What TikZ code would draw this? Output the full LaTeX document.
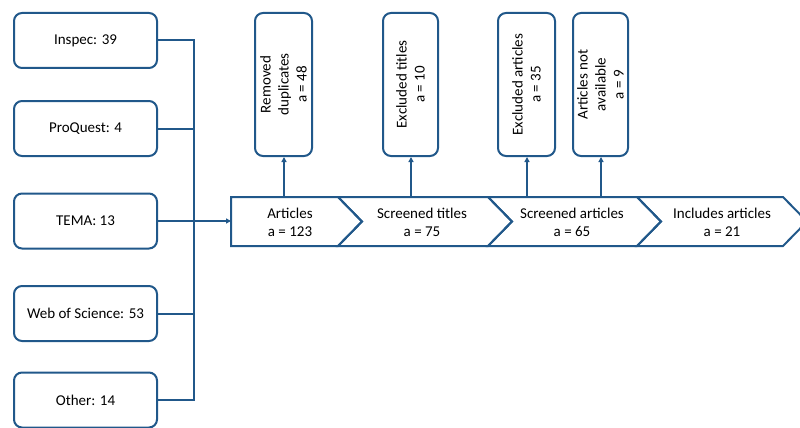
\documentclass[tikz,border=0pt]{standalone}
\usepackage{fontspec}
\setmainfont{Carlito}
\usetikzlibrary{arrows.meta}
\definecolor{dblue}{RGB}{33,88,138}
\begin{document}
\begin{tikzpicture}[x=1pt,y=-1pt,
  line width=2pt,
  src/.style={draw=dblue,rounded corners=8pt,minimum width=143pt,minimum height=55pt,inner sep=0pt,font=\fontsize{15}{18}\selectfont},
  side/.style={draw=dblue,rounded corners=8pt,minimum width=143pt,minimum height=#1,inner sep=0pt,rotate=90,align=center,font=\fontsize{15}{18}\selectfont},
  chev/.style={draw=dblue,line join=miter},
  lab/.style={align=center,inner sep=0pt,font=\fontsize{15}{18}\selectfont},
  conn/.style={draw=dblue},
  arr/.style={draw=dblue,-{Triangle[length=5pt,width=5pt]}}]
\useasboundingbox (0,0) rectangle (800,428);
% source boxes
\node[src] (inspec) at (85.5,40.5) {Inspec: 39};
\node[src] (proquest) at (85.5,128.5) {ProQuest: 4};
\node[src] (tema) at (85.5,221) {TEMA: 13};
\node[src] (wos) at (85.5,313.5) {Web of Science: 53};
\node[src] (other) at (85.5,400) {Other: 14};
% bus
\coordinate (busT) at (194,40.5);
\coordinate (busB) at (194,400);
\draw[conn] (inspec.east) -- (busT) -- (busB) -- (other.east);
\draw[conn] (proquest.east) -- (proquest.east -| busT);
\draw[conn] (wos.east) -- (wos.east -| busT);
% chevrons
\draw[chev] (231,197) -- (338,197) -- (362,221.5) -- (338,246) -- (231,246) -- cycle;
\draw[chev] (338,197) -- (488,197) -- (512,221.5) -- (488,246) -- (338,246) -- (362,221.5) -- cycle;
\draw[chev] (488,197) -- (637,197) -- (661,221.5) -- (637,246) -- (488,246) -- (512,221.5) -- cycle;
\draw[chev] (637,197) -- (783,197) -- (807,221.5) -- (783,246) -- (637,246) -- (661,221.5) -- cycle;
\coordinate (in1) at (231,221);
\draw[arr] (tema.east) -- (in1);
\node[lab] (c1) at (290,222) {Articles\\a = 123};
\node[lab] (c2) at (422,222) {Screened titles\\a = 75};
\node[lab] (c3) at (572,222) {Screened articles\\a = 65};
\node[lab] (c4) at (722,222) {Includes articles\\a = 21};
% side boxes
\node[side=57pt] (rd) at (283.5,84.5) {Removed\\duplicates\\a = 48};
\node[side=55pt] (et) at (410.5,84.5) {Excluded titles\\a = 10};
\node[side=57pt] (ea) at (526.5,84.5) {Excluded articles\\a = 35};
\node[side=55pt] (na) at (600.5,84.5) {Articles not\\available\\a = 9};
\coordinate (t1) at (284,197);
\coordinate (t2) at (411,197);
\coordinate (t3) at (527,197);
\coordinate (t4) at (601,197);
\draw[arr] (t1) -- (t1 |- rd.west);
\draw[arr] (t2) -- (t2 |- et.west);
\draw[arr] (t3) -- (t3 |- ea.west);
\draw[arr] (t4) -- (t4 |- na.west);
\end{tikzpicture}
\end{document}
